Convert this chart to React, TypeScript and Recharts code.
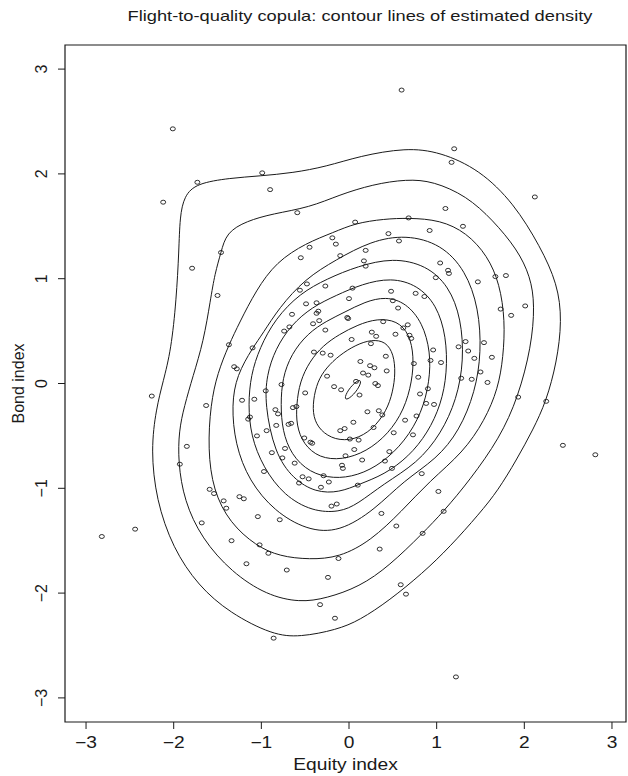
import { ScatterChart, Scatter, XAxis, YAxis, ReferenceArea } from "recharts";

const FONT = "'Liberation Sans', Arial, Helvetica, sans-serif";
const STRETCH = 1.2;

const X_DOMAIN: [number, number] = [-3.24, 3.16];
const Y_DOMAIN: [number, number] = [-3.23, 3.23];
const X_TICKS = [-3, -2, -1, 0, 1, 2, 3];
const Y_TICKS = [-3, -2, -1, 0, 1, 2, 3];

// observed (equity, bond) pairs
const observations: [number, number][] = [
	[-2.01, 2.43], [-1.73, 1.92], [-0.99, 2.01], [-0.9, 1.85], [-2.12, 1.73],
	[-0.59, 1.63], [0.07, 1.54], [-0.19, 1.39], [-0.15, 1.33], [-0.45, 1.3],
	[-0.55, 1.2], [-0.1, 1.22], [-1.46, 1.25], [-1.79, 1.1], [0.6, 2.8],
	[1.2, 2.24], [1.17, 2.11], [2.12, 1.78], [1.1, 1.67], [1.3, 1.5],
	[0.68, 1.58], [0.92, 1.46], [0.45, 1.43], [0.57, 1.36], [0.19, 1.27],
	[0.17, 1.17], [0.19, 1.12], [1.04, 1.15], [1.13, 1.08], [1.14, 1.05],
	[0.99, 1.01], [1.67, 1.02], [1.79, 1.03], [1.47, 0.97], [2.01, 0.74],
	[1.73, 0.71], [1.85, 0.65], [0.04, 0.91], [0.0, 0.81], [0.48, 0.88],
	[0.76, 0.86], [0.86, 0.83], [0.5, 0.79], [0.56, 0.72], [-0.02, 0.63],
	[-0.01, 0.62], [0.39, 0.59], [0.26, 0.49], [0.31, 0.45], [0.03, 0.42],
	[0.25, 0.38], [0.53, 0.47], [0.62, 0.53], [0.67, 0.56], [0.69, 0.46],
	[0.71, 0.43], [0.96, 0.32], [1.25, 0.35], [1.33, 0.4], [1.36, 0.31],
	[1.54, 0.39], [1.43, 0.24], [1.63, 0.25], [0.93, 0.22], [1.05, 0.2],
	[0.74, 0.19], [0.42, 0.26], [0.43, 0.12], [0.13, 0.21], [0.24, 0.17],
	[0.29, 0.15], [0.16, 0.1], [0.22, 0.08], [0.79, 0.06], [1.28, 0.05],
	[1.4, 0.04], [1.5, 0.11], [1.58, 0.01], [0.3, 0.0], [0.33, -0.02],
	[0.08, 0.02], [-0.09, -0.06], [0.12, -0.11], [0.9, -0.05], [0.81, -0.1],
	[0.88, -0.19], [0.97, -0.2], [1.93, -0.13], [2.25, -0.17], [0.21, -0.27],
	[0.34, -0.26], [0.38, -0.3], [0.77, -0.31], [0.64, -0.35], [0.05, -0.37],
	[0.28, -0.42], [-0.05, -0.43], [-0.1, -0.45], [0.51, -0.47], [0.73, -0.49],
	[0.01, -0.53], [0.11, -0.54], [0.06, -0.63], [0.46, -0.65], [-0.04, -0.69],
	[0.15, -0.73], [0.41, -0.74], [0.49, -0.81], [-0.08, -0.78], [-0.07, -0.81],
	[0.83, -0.86], [0.1, -0.97], [1.02, -1.03], [2.44, -0.59], [2.81, -0.68],
	[0.37, -1.24], [0.54, -1.36], [1.08, -1.22], [0.84, -1.43], [0.35, -1.58],
	[-0.12, -1.67], [0.59, -1.92], [0.65, -2.01], [1.22, -2.8], [-2.82, -1.46],
	[-2.44, -1.39], [-1.68, -1.33], [-1.59, -1.01], [-1.54, -1.05], [-1.43, -1.12],
	[-1.4, -1.19], [-1.25, -1.08], [-1.2, -1.1], [-1.34, -1.5], [-1.04, -1.27],
	[-0.79, -1.3], [-1.02, -1.54], [-0.92, -1.62], [-1.17, -1.72], [-0.71, -1.78],
	[-0.24, -1.85], [-0.33, -2.11], [-0.16, -2.24], [-0.86, -2.43], [-0.57, -0.95],
	[-0.32, -0.99], [-0.23, -0.94], [-0.2, -1.17], [-0.14, -1.15], [-1.5, 0.84],
	[-1.37, 0.37], [-1.1, 0.34], [-1.31, 0.16], [-1.28, 0.14], [-2.25, -0.12],
	[-1.63, -0.21], [-1.22, -0.16], [-1.08, -0.15], [-0.95, -0.07], [-0.77, -0.01],
	[-0.5, -0.09], [-0.84, -0.25], [-0.81, -0.29], [-0.64, -0.23], [-0.6, -0.22],
	[-1.15, -0.34], [-1.13, -0.32], [-0.83, -0.4], [-0.69, -0.39], [-0.66, -0.38],
	[-0.94, -0.45], [-1.05, -0.5], [-0.51, -0.52], [-0.44, -0.56], [-0.42, -0.57],
	[-1.85, -0.6], [-1.93, -0.77], [-0.88, -0.66], [-0.73, -0.62], [-0.76, -0.71],
	[-0.62, -0.76], [-0.97, -0.84], [-0.53, -0.89], [-0.46, -0.91], [-0.29, -0.88],
	[-0.56, 0.89], [-0.48, 0.95], [-0.27, 0.93], [-0.49, 0.76], [-0.37, 0.77],
	[-0.65, 0.66], [-0.35, 0.69], [-0.37, 0.67], [-0.34, 0.6], [-0.41, 0.57],
	[-0.68, 0.54], [-0.74, 0.5], [-0.27, 0.51], [-0.4, 0.3], [-0.3, 0.29],
	[-0.21, 0.27], [-0.25, 0.07], [-0.17, -0.03],
];

// contour lines, innermost first
const contour1: [number, number][] = [
	[0.13, 0.03], [0.103, 0.028], [0.061, 0.003], [0.014, -0.039], [-0.024, -0.087],
	[-0.044, -0.127], [-0.04, -0.15], [-0.013, -0.148], [0.029, -0.123], [0.076, -0.081],
	[0.114, -0.033], [0.134, 0.007],
];
const contour2: [number, number][] = [
	[-0.41, -0.16], [-0.36, 0.02], [-0.26, 0.15], [-0.11, 0.27], [0.08, 0.37],
	[0.26, 0.42], [0.42, 0.4], [0.51, 0.28], [0.53, 0.1], [0.5, -0.08],
	[0.43, -0.26], [0.27, -0.44], [0.06, -0.54], [-0.16, -0.54], [-0.33, -0.45],
	[-0.41, -0.32],
];
const contour3: [number, number][] = [
	[-0.6, -0.2], [-0.56, 0.02], [-0.45, 0.21], [-0.3, 0.36], [-0.11, 0.47],
	[0.1, 0.56], [0.32, 0.62], [0.55, 0.6], [0.69, 0.47], [0.74, 0.26],
	[0.72, 0.02], [0.63, -0.25], [0.45, -0.48], [0.2, -0.65], [-0.08, -0.73],
	[-0.34, -0.71], [-0.52, -0.58], [-0.6, -0.4],
];
const contour4: [number, number][] = [
	[-0.78, -0.2], [-0.76, 0.05], [-0.66, 0.28], [-0.47, 0.48], [-0.25, 0.6],
	[-0.05, 0.68], [0.18, 0.78], [0.42, 0.83], [0.65, 0.77], [0.84, 0.58],
	[0.93, 0.3], [0.92, 0.02], [0.83, -0.28], [0.64, -0.55], [0.38, -0.76],
	[0.1, -0.88], [-0.18, -0.91], [-0.45, -0.85], [-0.66, -0.68], [-0.76, -0.45],
];
const contour5: [number, number][] = [
	[-0.96, -0.2], [-0.94, 0.08], [-0.84, 0.33], [-0.66, 0.56], [-0.42, 0.73],
	[-0.15, 0.84], [0.15, 0.95], [0.48, 1.01], [0.78, 0.94], [1.0, 0.75],
	[1.11, 0.45], [1.12, 0.1], [1.05, -0.2], [0.9, -0.47], [0.68, -0.7],
	[0.4, -0.87], [0.12, -0.96], [-0.11, -1.04], [-0.38, -1.04], [-0.64, -0.91],
	[-0.85, -0.66],
];
const contour6: [number, number][] = [
	[-1.15, -0.2], [-1.12, 0.08], [-1.02, 0.34], [-0.84, 0.62], [-0.56, 0.86],
	[-0.25, 1.0], [0.1, 1.12], [0.5, 1.2], [0.88, 1.13], [1.14, 0.93],
	[1.28, 0.62], [1.31, 0.22], [1.23, -0.15], [1.05, -0.48], [0.78, -0.76],
	[0.39, -0.96], [0.1, -1.15], [-0.11, -1.23], [-0.42, -1.22], [-0.74, -1.07],
	[-0.98, -0.8], [-1.12, -0.5],
];
const contour7: [number, number][] = [
	[-1.34, -0.2], [-1.28, 0.08], [-1.1, 0.34], [-0.98, 0.48], [-0.8, 0.72],
	[-0.5, 1.0], [-0.15, 1.18], [0.25, 1.36], [0.65, 1.42], [1.05, 1.33],
	[1.33, 1.08], [1.48, 0.72], [1.51, 0.3], [1.44, -0.08], [1.26, -0.45],
	[1.0, -0.72], [0.62, -0.93], [0.3, -1.2], [-0.11, -1.42], [-0.48, -1.4],
	[-0.85, -1.22], [-1.14, -0.93], [-1.3, -0.58],
];
const contour8: [number, number][] = [
	[-1.58, -0.2], [-1.5, 0.1], [-1.37, 0.37], [-1.25, 0.58], [-1.06, 0.89],
	[-0.83, 1.16], [-0.49, 1.34], [-0.18, 1.44], [0.07, 1.53], [0.4, 1.57],
	[0.68, 1.58], [1.04, 1.56], [1.34, 1.44], [1.58, 1.22], [1.72, 0.95],
	[1.78, 0.6], [1.76, 0.25], [1.7, -0.05], [1.55, -0.35], [1.3, -0.66],
	[0.92, -0.93], [0.6, -1.22], [0.25, -1.5], [-0.11, -1.66], [-0.45, -1.68],
	[-0.79, -1.65], [-1.06, -1.55], [-1.36, -1.33], [-1.55, -1.02], [-1.61, -0.63],
];
const contour9: [number, number][] = [
	[-1.88, -0.22], [-1.78, 0.07], [-1.66, 0.4], [-1.58, 0.8], [-1.53, 1.05],
	[-1.46, 1.25], [-1.4, 1.44], [-1.17, 1.55], [-0.87, 1.62], [-0.45, 1.68],
	[-0.11, 1.8], [0.27, 1.9], [0.66, 1.95], [0.96, 1.93], [1.34, 1.79],
	[1.64, 1.56], [1.92, 1.28], [2.07, 1.02], [2.12, 0.75], [2.08, 0.35],
	[1.93, -0.13], [1.72, -0.52], [1.38, -0.92], [1.08, -1.22], [0.84, -1.43],
	[0.46, -1.74], [0.12, -1.94], [-0.26, -2.05], [-0.56, -2.09], [-0.94, -2.02],
	[-1.34, -1.8], [-1.68, -1.48], [-1.88, -1.12], [-1.95, -0.75], [-1.94, -0.45],
];
const contour10: [number, number][] = [
	[-2.2, -0.24], [-2.12, 0.02], [-2.03, 0.32], [-1.97, 0.8], [-1.94, 1.27],
	[-1.93, 1.59], [-1.88, 1.79], [-1.74, 1.91], [-1.36, 1.96], [-1.02, 1.98],
	[-0.64, 2.01], [-0.26, 2.07], [0.12, 2.17], [0.65, 2.25], [1.04, 2.21],
	[1.49, 2.04], [1.88, 1.72], [2.18, 1.31], [2.38, 0.95], [2.43, 0.6],
	[2.37, 0.2], [2.25, -0.17], [2.1, -0.44], [1.91, -0.73], [1.7, -1.02],
	[1.49, -1.24], [1.15, -1.56], [0.84, -1.81], [0.46, -2.07], [0.12, -2.26],
	[-0.14, -2.35], [-0.56, -2.42], [-0.87, -2.4], [-1.36, -2.19], [-1.72, -1.93],
	[-2.01, -1.57], [-2.2, -1.11], [-2.26, -0.63],
];

const contours = [
	contour1, contour2, contour3, contour4, contour5,
	contour6, contour7, contour8, contour9, contour10,
];

const toPoints = (pairs: [number, number][]) => pairs.map(([x, y]) => ({ x, y }));

const fmt = (v: number) => (v < 0 ? `\u2212${Math.abs(v)}` : String(v));

function XTick({ x, y, payload }: any) {
	return (
		<g transform={`translate(${x},${y + 17}) scale(${STRETCH},1)`}>
			<text textAnchor="middle" fontSize={16} fontFamily={FONT} fill="#1a1a1a">
				{fmt(payload.value)}
			</text>
		</g>
	);
}

function YTick({ y, payload }: any) {
	return (
		<text
			x={47}
			y={y}
			transform={`rotate(-90 47 ${y})`}
			textAnchor="middle"
			fontSize={16}
			fontFamily={FONT}
			fill="#1a1a1a"
		>
			{fmt(payload.value)}
		</text>
	);
}

function Dot({ cx, cy }: any) {
	return <ellipse cx={cx} cy={cy} rx={2.5} ry={2} fill="none" stroke="#1a1a1a" strokeWidth={0.9} />;
}

export default function App() {
	return (
		<div style={{ position: "absolute", left: 0, top: 0, width: 628, height: 776, background: "#fff" }}>
			<svg width={628} height={30} style={{ position: "absolute", left: 0, top: 0 }}>
				<text
					x={360}
					y={21}
					textAnchor="middle"
					fontSize={14.5}
					fontFamily={FONT}
					fill="#1a1a1a"
					textLength={465}
					lengthAdjust="spacingAndGlyphs"
				>
					Flight-to-quality copula: contour lines of estimated density
				</text>
			</svg>
			<ScatterChart
				width={628}
				height={776}
				margin={{ top: 45, right: 2, bottom: 0, left: 0 }}
			>
				<XAxis
					type="number"
					dataKey="x"
					domain={X_DOMAIN}
					ticks={X_TICKS}
					allowDataOverflow
					axisLine={false}
					tickLine={{ stroke: "#1a1a1a" }}
					tickSize={7}
					tick={<XTick />}
					height={54}
					label={{
						content: ({ viewBox }: any) => (
							<g transform={`translate(${viewBox.x + viewBox.width / 2},${viewBox.y + 48}) scale(${STRETCH},1)`}>
								<text textAnchor="middle" fontSize={16} fontFamily={FONT} fill="#1a1a1a">
									Equity index
								</text>
							</g>
						),
					}}
				/>
				<YAxis
					type="number"
					dataKey="y"
					domain={Y_DOMAIN}
					ticks={Y_TICKS}
					allowDataOverflow
					axisLine={false}
					tickLine={{ stroke: "#1a1a1a" }}
					tickSize={7}
					tick={<YTick />}
					width={65}
					label={{
						content: ({ viewBox }: any) => {
							const cy = viewBox.y + viewBox.height / 2;
							return (
								<text
									x={24}
									y={cy}
									transform={`rotate(-90 24 ${cy})`}
									textAnchor="middle"
									fontSize={16}
									fontFamily={FONT}
									fill="#1a1a1a"
								>
									Bond index
								</text>
							);
						},
					}}
				/>
				<ReferenceArea
					x1={X_DOMAIN[0]}
					x2={X_DOMAIN[1]}
					y1={Y_DOMAIN[0]}
					y2={Y_DOMAIN[1]}
					fill="none"
					stroke="#1a1a1a"
					strokeWidth={1.2}
					ifOverflow="visible"
				/>
				{contours.map((c, i) => (
					<Scatter
						key={`contour-${i}`}
						data={toPoints(c)}
						line={{ stroke: "#1a1a1a", strokeWidth: 1 }}
						lineJointType="basisClosed"
						shape={() => <g />}
						isAnimationActive={false}
					/>
				))}
				<Scatter data={toPoints(observations)} shape={<Dot />} isAnimationActive={false} />
			</ScatterChart>
		</div>
	);
}
